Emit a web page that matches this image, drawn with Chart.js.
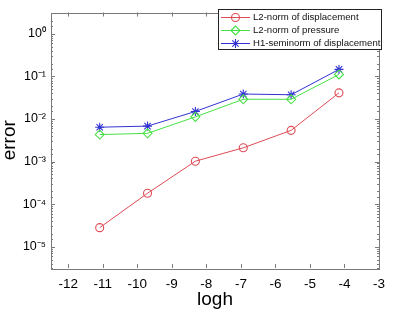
<!DOCTYPE html>
<html>
<head>
<meta charset="utf-8">
<script src="https://cdn.jsdelivr.net/npm/chart.js@4/dist/chart.umd.min.js"></script>
<style>
html,body{margin:0;padding:0;background:#fff;}
#wrap{width:393px;height:315px;}
</style>
</head>
<body>
<div id="wrap"><canvas id="c" width="393" height="315"></canvas></div>
<script>
// ---- data ----
const logh = [-11.09, -9.704, -8.318, -6.931, -5.545, -4.159];
const l2Disp = [2.8e-5, 1.8e-4, 1.02e-3, 2.1e-3, 5.4e-3, 4.1e-2];
const l2Pres = [4.3e-3, 4.6e-3, 1.12e-2, 2.9e-2, 2.9e-2, 0.111];
const h1Disp = [6.4e-3, 6.8e-3, 1.5e-2, 3.85e-2, 3.7e-2, 0.146];
const seriesNames = ['L2-norm of displacement', 'L2-norm of pressure', 'H1-seminorm of displacement'];
const xTicks = [-12, -11, -10, -9, -8, -7, -6, -5, -4, -3];

const sup = {'0':'⁰','1':'¹','2':'²','3':'³','4':'⁴','5':'⁵','6':'⁶','7':'⁷','8':'⁸','9':'⁹','-':'⁻'};
function supStr(s){return s.split('').map(c=>sup[c]||c).join('');}

const colors = ['rgb(222,75,85)', 'rgb(70,225,70)', 'rgb(50,50,210)'];
const styles = ['circle', 'rectRot', 'star'];
const radii = [4, 4.5, 4.5];

function mk(vals){ return logh.map((x,i)=>({x:x, y:vals[i]})); }
const dsets = [l2Disp, l2Pres, h1Disp].map((v,i)=>({
  label: seriesNames[i],
  data: mk(v),
  borderColor: colors[i],
  backgroundColor: 'rgba(0,0,0,0)',
  borderWidth: 1,
  pointStyle: styles[i],
  pointRadius: radii[i],
  pointBorderWidth: 1.1,
  pointBorderColor: colors[i],
  pointBackgroundColor: 'rgba(0,0,0,0)',
  tension: 0
}));

const FONT = "'Liberation Sans', Arial, sans-serif";

function drawFrameAndLegend(chart){
  const ctx = chart.ctx, a = chart.chartArea;
  const xs = chart.scales.x, ys = chart.scales.y;
  ctx.save();
  ctx.strokeStyle = '#7a7a7a';
  ctx.lineWidth = 1;
  ctx.beginPath();
  xs.ticks.forEach(t=>{
    const px = Math.round(xs.getPixelForValue(t.value))+0.5;
    ctx.moveTo(px, a.bottom); ctx.lineTo(px, a.bottom-4);
    ctx.moveTo(px, a.top); ctx.lineTo(px, a.top+4);
  });
  ys.ticks.forEach(t=>{
    const py = Math.round(ys.getPixelForValue(t.value))+0.5;
    const e = Math.log10(t.value);
    const major = Math.abs(e-Math.round(e))<1e-6;
    const L = major?4:2;
    ctx.moveTo(a.left, py); ctx.lineTo(a.left+L, py);
    ctx.moveTo(a.right, py); ctx.lineTo(a.right-L, py);
  });
  ctx.stroke();
  ctx.strokeRect(Math.round(a.left)+0.5, Math.round(a.top)+0.5, Math.round(a.right-a.left), Math.round(a.bottom-a.top));
  // legend
  const bx=218.5, by=9.5, bw=163, bh=40;
  ctx.fillStyle='#fff'; ctx.fillRect(bx,by,bw,bh);
  ctx.strokeStyle='#222'; ctx.strokeRect(bx,by,bw,bh);
  const rows=[17,30,43];
  ctx.font = '9.6px ' + FONT;
  ctx.textBaseline='middle'; ctx.textAlign='left';
  chart.data.datasets.forEach((d,i)=>{
    const y=rows[i]+0.5;
    ctx.strokeStyle=d.borderColor; ctx.lineWidth=1;
    ctx.beginPath(); ctx.moveTo(221,y); ctx.lineTo(250,y); ctx.stroke();
    ctx.strokeStyle=d.borderColor; ctx.fillStyle='rgba(0,0,0,0)'; ctx.lineWidth=d.pointBorderWidth;
    Chart.helpers.drawPoint(ctx,{pointStyle:d.pointStyle,radius:d.pointRadius,borderWidth:d.pointBorderWidth,rotation:0},235.5,y);
    ctx.fillStyle='#111';
    ctx.fillText(d.label, 253, y);
  });
  ctx.restore();
}

new Chart(document.getElementById('c'), {
  type: 'line',
  data: { datasets: dsets },
  options: {
    responsive: false,
    animation: false,
    layout: { padding: { top: 2, right: 7, left: 0, bottom: 0 } },
    plugins: { legend: { display: false }, tooltip: { enabled: false } },
    scales: {
      x: {
        type: 'linear', min: -12.5, max: -3,
        grid: { display: false, drawTicks: false },
        border: { display: false },
        afterBuildTicks(s){ s.ticks = xTicks.map(v=>({value:v})); },
        ticks: { color: '#000', font: { family: FONT, size: 13.5 }, padding: 8, autoSkip: false, maxRotation: 0,
                 callback: v => String(v) },
        title: { display: true, text: 'logh', color: '#000', font: { family: FONT, size: 19 }, padding: { top: 0, bottom: 4 } },
        afterFit(s){ s.height = 47; }
      },
      y: {
        type: 'logarithmic', min: Math.pow(10,-5.5), max: Math.pow(10,0.5),
        grid: { display: false, drawTicks: false },
        border: { display: false },
        ticks: { color: '#000', font: { family: FONT, size: 12.5 }, padding: 5, autoSkip: false, includeBounds: false,
                 callback: v => { const e = Math.log10(v); return Math.abs(e-Math.round(e))<1e-6 ? '10'+supStr(String(Math.round(e))) : ''; } },
        title: { display: true, text: 'error', color: '#000', font: { family: FONT, size: 19 }, padding: { top: -2, bottom: 0 } },
        afterFit(s){ s.width = 51; }
      }
    }
  },
  plugins: [{ id:'frame', afterDraw: drawFrameAndLegend }]
});
</script>
</body>
</html>
